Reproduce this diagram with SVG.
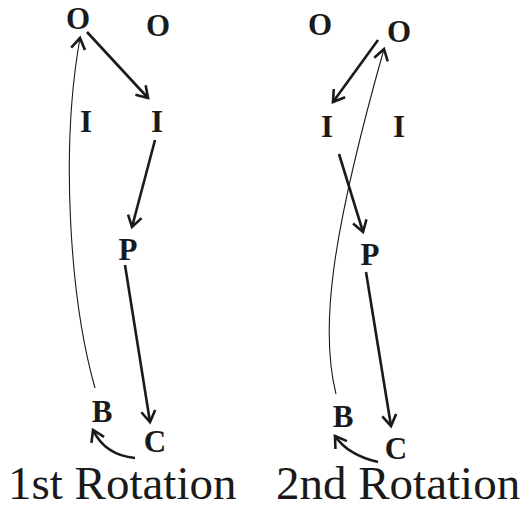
<svg xmlns="http://www.w3.org/2000/svg" width="527" height="510" viewBox="0 0 527 510">
<style>
.n{font-family:"Liberation Serif","Times New Roman",serif;font-weight:bold;font-size:31px;fill:#1a1a1a;text-anchor:middle}
.t{font-family:"Liberation Serif","Times New Roman",serif;font-size:47px;fill:#1a1a1a}
.a{fill:none;stroke:#1a1a1a;stroke-width:2.6;marker-end:url(#ah)}
.th{fill:none;stroke:#1a1a1a;stroke-width:1.1;marker-end:url(#ah)}
</style>
<defs>
<marker id="ah" markerUnits="userSpaceOnUse" markerWidth="30" markerHeight="30" viewBox="-15 -15 30 30" refX="0" refY="0" orient="auto">
<path d="M-11,-7 L0,0 L-11,7" fill="none" stroke="#1a1a1a" stroke-width="2.6" stroke-linejoin="miter"/>
</marker>
</defs>
<g id="connectors">
<path class="a" d="M87,32 L148,98"/>
<path class="a" d="M155,140 L132,227"/>
<path class="a" d="M125,265 L150,422"/>
<path class="a" d="M135,458 Q105,455 93,430"/>
<path class="th" d="M95,388 C70,300 60,150 80,38"/>
<path class="a" d="M378,40 L333,102"/>
<path class="a" d="M339,154 L363,232"/>
<path class="a" d="M366,272 L391,426"/>
<path class="a" d="M378,462 Q348,455 335,436"/>
<path class="th" d="M336,394 C320,330 330,240 384,49"/>
</g>
<g id="r1-O1"><text class="n" x="78" y="29">O</text></g>
<g id="r1-O2"><text class="n" x="158" y="36">O</text></g>
<g id="r1-I1"><text class="n" x="86" y="132">I</text></g>
<g id="r1-I2"><text class="n" x="157" y="132">I</text></g>
<g id="r1-P"><text class="n" x="128" y="260">P</text></g>
<g id="r1-B"><text class="n" x="102" y="422">B</text></g>
<g id="r1-C"><text class="n" x="155" y="452">C</text></g>
<g id="r2-O1"><text class="n" x="320" y="35">O</text></g>
<g id="r2-O2"><text class="n" x="399" y="42">O</text></g>
<g id="r2-I1"><text class="n" x="327" y="137">I</text></g>
<g id="r2-I2"><text class="n" x="399" y="137">I</text></g>
<g id="r2-P"><text class="n" x="370" y="265">P</text></g>
<g id="r2-B"><text class="n" x="343" y="427">B</text></g>
<g id="r2-C"><text class="n" x="396" y="459">C</text></g>
<g id="title1"><text class="t" x="8" y="499">1st Rotation</text></g>
<g id="title2"><text class="t" x="276" y="499">2nd Rotation</text></g>
</svg>
